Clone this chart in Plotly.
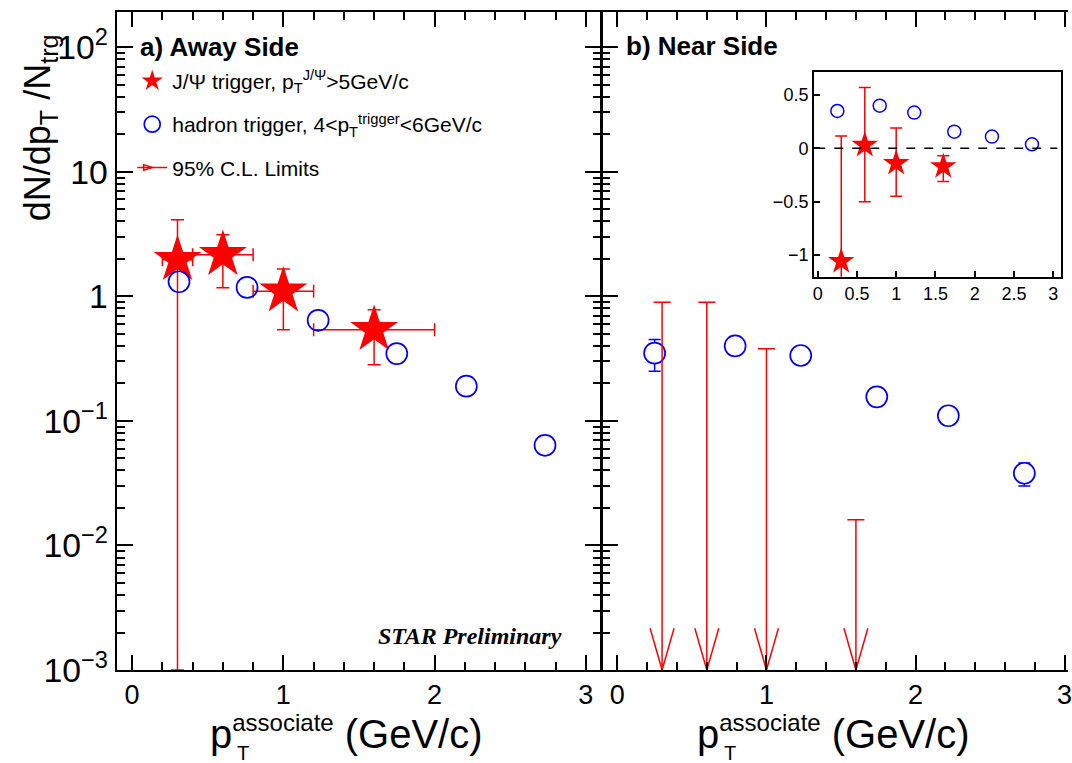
import plotly.graph_objects as go

# ---------------- data ----------------
jpsi_x = [0.3, 0.6, 1.0, 1.6]
jpsi_x_lo = [0.2, 0.4, 0.8, 1.2]
jpsi_x_hi = [0.4, 0.8, 1.2, 2.0]

away_jpsi_y = [1.97, 2.16, 1.10, 0.54]
away_jpsi_hi = [4.13, 3.13, 1.66, 0.78]
away_jpsi_lo = [0.001, 1.17, 0.54, 0.283]

away_h_x = [0.31, 0.76, 1.23, 1.75, 2.21, 2.73]
away_h_y = [1.31, 1.18, 0.642, 0.347, 0.19, 0.0637]

near_h_x = [0.25, 0.79, 1.23, 1.74, 2.22, 2.73]
near_h_y = [0.35, 0.40, 0.335, 0.156, 0.11, 0.038]
near_h_hi = [0.45, 0.41, 0.345, 0.160, 0.113, 0.046]
near_h_lo = [0.25, 0.39, 0.325, 0.152, 0.107, 0.030]

near_limit = [0.895, 0.895, 0.38, 0.0161]

inset_jpsi_y = [-1.06, 0.03, -0.14, -0.17]
inset_jpsi_hi = [0.115, 0.57, 0.19, -0.07]
inset_jpsi_lo = [-1.8, -0.5, -0.45, -0.31]

y_log_range = [-3, 2.283]
y_min = 10 ** y_log_range[0]

RED = "#ff0000"
BLUE = "#0000ff"
FONT = "Liberation Sans, Arial, Helvetica, sans-serif"

fig = go.Figure()

# ---------- left panel: away side ----------
fig.add_trace(go.Scatter(
    x=jpsi_x, y=away_jpsi_y, mode="markers", xaxis="x", yaxis="y",
    name="J/Ψ trigger, p<sub>T</sub><sup>J/Ψ</sup>&gt;5GeV/c",
    legendgroup="a",
    marker=dict(symbol="star", size=36, color=RED, line=dict(width=0)),
    error_y=dict(type="data", symmetric=False,
                 array=[h - v for h, v in zip(away_jpsi_hi, away_jpsi_y)],
                 arrayminus=[v - l for v, l in zip(away_jpsi_y, away_jpsi_lo)],
                 color=RED, thickness=1.5, width=6.5),
    error_x=dict(type="data", symmetric=False,
                 array=[h - x for h, x in zip(jpsi_x_hi, jpsi_x)],
                 arrayminus=[x - l for x, l in zip(jpsi_x, jpsi_x_lo)],
                 color=RED, thickness=1.5, width=6.5),
))
fig.add_trace(go.Scatter(
    x=away_h_x, y=away_h_y, mode="markers", xaxis="x", yaxis="y",
    name="hadron trigger, 4&lt;p<sub>T</sub><sup>trigger</sup>&lt;6GeV/c",
    legendgroup="b",
    marker=dict(symbol="circle", size=21, color="rgba(255,255,255,0)",
                line=dict(color=BLUE, width=1.7)),
))
# legend entry for the limits
fig.add_trace(go.Scatter(
    x=[None], y=[None], mode="lines+markers", xaxis="x", yaxis="y",
    name="95% C.L. Limits", legendgroup="c",
    line=dict(color=RED, width=1.5),
    marker=dict(symbol="arrow-open", angle=90, size=9, color=RED,
                line=dict(color=RED, width=1.5)),
))

# ---------- right panel: near side ----------
fig.add_trace(go.Scatter(
    x=near_h_x, y=near_h_y, mode="markers", xaxis="x2", yaxis="y2",
    showlegend=False,
    marker=dict(symbol="circle", size=21, color="white",
                line=dict(color=BLUE, width=1.7)),
    error_y=dict(type="data", symmetric=False,
                 array=[h - v for h, v in zip(near_h_hi, near_h_y)],
                 arrayminus=[v - l for v, l in zip(near_h_y, near_h_lo)],
                 color=BLUE, thickness=1.5, width=6),
))
# upper limits: vertical line with top cap
fig.add_trace(go.Scatter(
    x=jpsi_x, y=near_limit, mode="markers", xaxis="x2", yaxis="y2",
    showlegend=False,
    marker=dict(size=1, color="rgba(0,0,0,0)"),
    error_y=dict(type="data", symmetric=False,
                 array=[0] * len(near_limit),
                 arrayminus=[v - y_min * 0.5 for v in near_limit],
                 color=RED, thickness=1.5, width=8.5),
))
# open "V" arrow heads at the bottom (two tilted strokes, lower halves clipped)
for ang in (-16, 16):
    fig.add_trace(go.Scatter(
        x=jpsi_x, y=[y_min] * len(jpsi_x), mode="markers", xaxis="x2", yaxis="y2",
        showlegend=False, cliponaxis=True,
        marker=dict(symbol="line-ns", angle=ang, size=62, color=RED,
                    line=dict(color=RED, width=1.5)),
    ))

# ---------- inset ----------
fig.add_trace(go.Scatter(
    x=near_h_x, y=near_h_y, mode="markers", xaxis="x3", yaxis="y3",
    showlegend=False,
    marker=dict(symbol="circle-open", size=13, color=BLUE,
                line=dict(color=BLUE, width=1.5)),
))
fig.add_trace(go.Scatter(
    x=jpsi_x, y=inset_jpsi_y, mode="markers", xaxis="x3", yaxis="y3",
    showlegend=False,
    marker=dict(symbol="star", size=20, color=RED, line=dict(width=0)),
    error_y=dict(type="data", symmetric=False,
                 array=[h - v for h, v in zip(inset_jpsi_hi, inset_jpsi_y)],
                 arrayminus=[v - l for v, l in zip(inset_jpsi_y, inset_jpsi_lo)],
                 color=RED, thickness=1.5, width=6),
))

split = 486 / 955
split2 = split + 1.5 / 955

common_ax = dict(showline=True, linecolor="black", linewidth=1.5,
                 ticks="inside", tickcolor="black", tickwidth=1.5,
                 showgrid=False, zeroline=False,
                 tickfont=dict(family=FONT, size=27, color="black"))

xminor = dict(ticks="inside", ticklen=8, tickwidth=1.5, tickcolor="black",
              dtick=0.2, showgrid=False)
yminor = dict(ticks="inside", ticklen=8, tickwidth=1.5, tickcolor="black",
              dtick="D1", showgrid=False)

fig.update_layout(
    width=1072, height=763,
    margin=dict(l=117, r=0, t=12, b=93),
    paper_bgcolor="white", plot_bgcolor="white",
    font=dict(family=FONT, color="black"),
    xaxis=dict(common_ax, domain=[0, split], range=[-0.1, 3.1],
               dtick=1, tick0=0, ticklen=15, mirror="allticks",
               minor=xminor, anchor="y", ticklabelstandoff=0),
    yaxis=dict(common_ax, type="log", range=y_log_range, dtick=1,
               exponentformat="power", ticklen=16, mirror="allticks",
               minor=yminor, anchor="x", ticklabelstandoff=2),
    xaxis2=dict(common_ax, domain=[split2, 1], range=[-0.1, (1072 - 618) / 150.2],
                dtick=1, tick0=0, ticklen=15, mirror="allticks",
                minor=xminor, anchor="y2", ticklabeloverflow="allow",
                ticklabelstandoff=0),
    yaxis2=dict(common_ax, type="log", range=y_log_range, dtick=1,
                showticklabels=False, ticklen=16, mirror=False,
                minor=yminor, anchor="x2"),
    xaxis3=dict(common_ax, domain=[(816.7 - 117) / 955, (1065 - 117) / 955],
                range=[-0.05, 3.1], dtick=0.5, tick0=0, ticklen=6,
                mirror=True, anchor="y3",
                tickfont=dict(family=FONT, size=18, color="black")),
    yaxis3=dict(common_ax, domain=[(670 - 276.7) / 658, (670 - 71.7) / 658],
                range=[-1.203, 0.718], dtick=0.5, tick0=0, ticklen=6,
                mirror=True, anchor="x3",
                tickfont=dict(family=FONT, size=18, color="black")),
    showlegend=True,
    legend=dict(x=0.016, y=0.926, xanchor="left", yanchor="top",
                font=dict(family=FONT, size=21, color="black"),
                bgcolor="rgba(0,0,0,0)", tracegroupgap=13,
                itemsizing="trace"),
)

# dashed zero line in inset
fig.add_shape(type="line", xref="x3 domain", yref="y3", x0=0.01, x1=0.985,
              y0=0, y1=0, line=dict(color="black", width=1.5, dash="dash"))

# texts
fig.add_annotation(text="<b>a) Away Side</b>", xref="paper", yref="paper",
                   x=(138 - 117) / 955, y=(670 - 47) / 658, xanchor="left",
                   yanchor="middle", showarrow=False,
                   font=dict(family=FONT, size=26, color="black"))
fig.add_annotation(text="<b>b) Near Side</b>", xref="paper", yref="paper",
                   x=(626 - 117) / 955, y=(670 - 46) / 658, xanchor="left",
                   yanchor="middle", showarrow=False,
                   font=dict(family=FONT, size=26, color="black"))
fig.add_annotation(text="<b><i>STAR Preliminary</i></b>", xref="paper", yref="paper",
                   x=(566 - 117) / 955, y=(670 - 636) / 658, xanchor="right",
                   yanchor="middle", showarrow=False,
                   font=dict(family="Liberation Serif, Times New Roman, serif",
                             size=24, color="black"))
fig.add_annotation(text="dN/dp<sub>T</sub> /N<sub>trg</sub>", xref="paper", yref="paper",
                   x=(40 - 117) / 955, y=(670 - 128) / 658, textangle=-90,
                   xanchor="center", yanchor="middle", showarrow=False,
                   font=dict(family=FONT, size=36, color="black"))
for left_x in (208, 697):
    fig.add_annotation(text="p<sup><span style='font-size:24px'>associate</span></sup>&nbsp;(GeV/c)",
                       xref="paper", yref="paper",
                       x=(left_x - 117) / 955, y=(670 - 732) / 658,
                       xanchor="left", yanchor="middle", showarrow=False,
                       font=dict(family=FONT, size=40, color="black"))
    fig.add_annotation(text="T", xref="paper", yref="paper",
                       x=(left_x + 36 - 117) / 955, y=(670 - 753) / 658,
                       xanchor="center", yanchor="middle", showarrow=False,
                       font=dict(family=FONT, size=20, color="black"))

fig.write_html("out.html", config={"displayModeBar": False},
               post_script="document.body.style.margin='0';")
